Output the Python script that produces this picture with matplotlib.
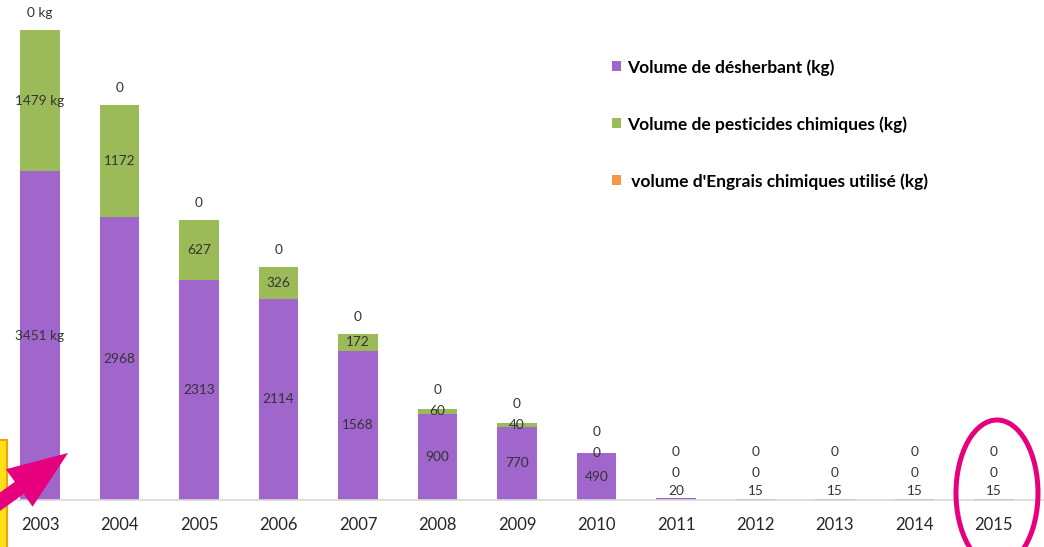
"""Histogramme empilé : volumes de désherbant / pesticides / engrais, 2003-2015."""

import matplotlib

matplotlib.use("Agg")
import matplotlib.pyplot as plt
from matplotlib.patches import Ellipse, FancyArrow, Patch, Rectangle

# ---- données ----
years = ["2003", "2004", "2005", "2006", "2007", "2008", "2009",
         "2010", "2011", "2012", "2013", "2014", "2015"]
desherbant = [3451, 2968, 2313, 2114, 1568, 900, 770, 490, 20, 15, 15, 15, 15]
pesticides = [1479, 1172, 627, 326, 172, 60, 40, 0, 0, 0, 0, 0, 0]
engrais = [0, 0, 0, 0, 0, 0, 0, 0, 0, 0, 0, 0, 0]

series_names = ["Volume de désherbant (kg)",
                "Volume de pesticides chimiques (kg)",
                " volume d'Engrais chimiques utilisé (kg)"]

PURPLE = "#A066CC"
GREEN = "#9BBB59"
ORANGE = "#F79646"
LABEL_COLOR = "#333333"

plt.rcParams["font.family"] = ["Lato", "DejaVu Sans"]

W, H = 1044, 547
fig = plt.figure(figsize=(W / 100, H / 100), dpi=100)
fig.patch.set_facecolor("white")

# axe principal : ligne de base à 47 px du bas, sommet au bord haut
ax = fig.add_axes([0, 47 / H, 1, 500 / H])
x = list(range(len(years)))
ax.set_xlim(-0.503, 12.63)
ymax = 5246
ax.set_ylim(0, ymax)
px = ymax / 500  # 1 pixel en kg

ax.bar(x, desherbant, width=0.5, color=PURPLE, zorder=2)
ax.bar(x, pesticides, width=0.5, bottom=desherbant, color=GREEN, zorder=2)
tops = [d + p for d, p in zip(desherbant, pesticides)]
ax.bar(x, engrais, width=0.5, bottom=tops, color=ORANGE, zorder=2)

for s in ["left", "right", "top"]:
    ax.spines[s].set_visible(False)
ax.spines["bottom"].set_color("#D9D9D9")
ax.spines["bottom"].set_linewidth(1.2)
ax.set_yticks([])
ax.set_xticks(x)
ax.set_xticklabels(years, fontsize=12, color="#262626")
ax.tick_params(axis="x", length=0, pad=12)

# ---- étiquettes de données ----
for i in x:
    d, p, e = desherbant[i], pesticides[i], engrais[i]
    suffix = " kg" if i == 0 else ""
    y_d = max(d / 2, 9 * px)
    y_p = d + p / 2 if p > 0 else max(d, 27 * px)
    y_e = max(d + p + e + 17 * px, y_p + 21 * px)
    ax.text(i, y_d, f"{d}{suffix}", ha="center", va="center", fontsize=9.8, color=LABEL_COLOR, zorder=3)
    ax.text(i, y_p, f"{p}{suffix}", ha="center", va="center", fontsize=9.8, color=LABEL_COLOR, zorder=3)
    ax.text(i, y_e, f"{e}{suffix}", ha="center", va="center", fontsize=9.8, color=LABEL_COLOR, zorder=3)

# ---- légende ----
handles = [Patch(facecolor=c, edgecolor="none") for c in (PURPLE, GREEN, ORANGE)]
fig.legend(handles, series_names, loc="upper left", bbox_to_anchor=(605 / W, 1 - 52 / H),
           borderaxespad=0, frameon=False, handlelength=0.5, handleheight=0.5,
           handletextpad=0.35, labelspacing=2.33,
           prop={"family": "Lato", "weight": "bold", "size": 12.5})

# ---- annotations dessinées par-dessus (coordonnées pixels) ----
ov = fig.add_axes([0, 0, 1, 1], zorder=10)
ov.set_xlim(0, W)
ov.set_ylim(H, 0)
ov.axis("off")
ov.patch.set_visible(False)

ov.add_patch(Rectangle((-4, 440), 11, 110, facecolor="#FFE11A", edgecolor="#F5A000", linewidth=1.5))
ov.add_patch(FancyArrow(-20, 516, 88, -63, width=15, head_width=46, head_length=60,
                        length_includes_head=True, facecolor="#E6007E", edgecolor="none"))
ov.add_patch(Ellipse((997, 493), 82, 146, fill=False, edgecolor="#E6007E", linewidth=3.6))

fig.savefig("out.png", dpi=100)
